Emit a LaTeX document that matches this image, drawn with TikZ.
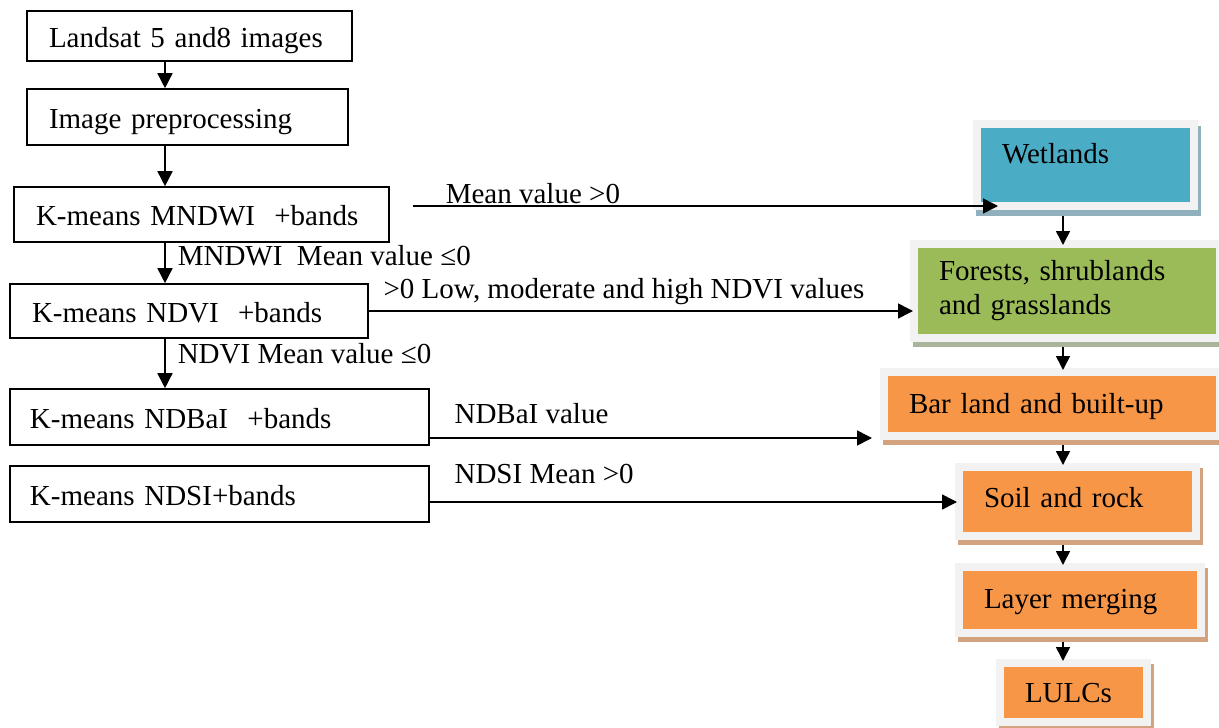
\documentclass[tikz,border=0pt]{standalone}
\usepackage{fontspec}
\setmainfont{Liberation Serif}
\usetikzlibrary{arrows.meta,backgrounds}
\definecolor{wetc}{HTML}{4BACC6}
\definecolor{grnc}{HTML}{9BBB59}
\definecolor{orac}{HTML}{F79646}
\definecolor{framec}{HTML}{F2F2F2}
\definecolor{wetsh}{HTML}{8FB0BC}
\definecolor{grnsh}{HTML}{A9B59A}
\definecolor{orash}{HTML}{D3A27F}
\tikzset{
  every node/.style={font=\fontsize{29}{35}\selectfont},
  lbox/.style={draw=black, line width=1.6pt, inner ysep=0pt, inner xsep=22pt,
    text height=22pt, text depth=0pt, align=left},
  rbox/.style={draw=framec, line width=8pt, inner ysep=0pt, inner xsep=25pt, align=left},
  lbl/.style={inner sep=0pt},
  arr/.style={line width=1.6pt, -{Triangle[length=15pt,width=15pt]}},
  rarr/.style={line width=1.6pt, -{Triangle[length=14pt,width=14pt]}},
}
\begin{document}
\begin{tikzpicture}[x=1pt,y=-1pt]
\useasboundingbox (0,0) rectangle (1219,728);
% left column
\node[lbox, minimum width=325pt, minimum height=50pt, text width=281pt] (L1) at (189.5,36) {Landsat 5 and8 images};
\node[lbox, minimum width=321pt, minimum height=56pt, text width=277pt] (L2) at (187.5,117) {Image preprocessing};
\node[lbox, minimum width=375pt, minimum height=55pt, text width=331pt] (L3) at (201.5,214.5) {K-means MNDWI\ \ +bands};
\node[lbox, minimum width=358pt, minimum height=54pt, text width=314pt, inner xsep=20pt] (L4) at (189,311) {K-means NDVI\ \ +bands};
\node[lbox, minimum width=419pt, minimum height=56pt, text width=379pt, inner xsep=20pt] (L5) at (219.5,417) {K-means NDBaI\ \ +bands};
\node[lbox, minimum width=419pt, minimum height=56pt, text width=379pt, inner xsep=20pt] (L6) at (219.5,494) {K-means NDSI+bands};
% right column
\node[rbox, fill=wetc, minimum width=217pt, minimum height=82pt, text width=167pt, text height=0pt, text depth=4pt] (W) at (1085.5,165) {Wetlands};
\node[rbox, fill=grnc, minimum width=306pt, minimum height=94pt, text width=256pt] (F) at (1067,291) {Forests, shrublands\\[-1pt]and grasslands};
\node[rbox, fill=orac, minimum width=336pt, minimum height=64pt, text width=286pt, text height=18pt, text depth=0pt] (B) at (1052,404) {Bar land and built-up};
\node[rbox, fill=orac, minimum width=237pt, minimum height=69pt, text width=187pt, text height=11pt, text depth=0pt] (S) at (1077.5,501.5) {Soil and rock};
\node[rbox, fill=orac, minimum width=242pt, minimum height=66pt, text width=192pt, text height=16pt, text depth=0pt] (LM) at (1080,600) {Layer merging};
\node[rbox, fill=orac, minimum width=147pt, minimum height=59pt, text width=97pt, text height=19pt, text depth=0pt] (LU) at (1073.5,692.5) {LULCs};
% shadows
\begin{scope}[on background layer]
\fill[wetsh] ([shift={(3,6)}]W.north west) rectangle ([shift={(3,6)}]W.south east);
\fill[grnsh] ([shift={(3,5)}]F.north west) rectangle ([shift={(3,5)}]F.south east);
\fill[orash] ([shift={(3,5)}]B.north west) rectangle ([shift={(3,5)}]B.south east);
\fill[orash] ([shift={(3,5)}]S.north west) rectangle ([shift={(3,5)}]S.south east);
\fill[orash] ([shift={(3,5)}]LM.north west) rectangle ([shift={(3,5)}]LM.south east);
\fill[orash] ([shift={(3,5)}]LU.north west) rectangle ([shift={(3,5)}]LU.south east);
\end{scope}
% coordinates
\coordinate (vl) at (165,0);
\coordinate (vr) at (1063,0);
\coordinate (m0) at (413,206);
\coordinate (p5) at ([yshift=-21pt]L5.east);
\coordinate (p6) at ([yshift=-8pt]L6.east);
% left vertical arrows
\draw[arr] (L1.south -| vl) -- (L2.north -| vl);
\draw[arr] (L2.south -| vl) -- (L3.north -| vl);
\draw[arr] (L3.south -| vl) -- node[lbl, pos=0, anchor=base west, xshift=12pt, yshift=-23pt] {MNDWI\ \ Mean value ≤0} (L4.north -| vl);
\draw[arr] (L4.south -| vl) -- node[lbl, pos=0, anchor=base west, xshift=12pt, yshift=-25pt] {NDVI Mean value ≤0} (L5.north -| vl);
% horizontal arrows
\draw[arr, shorten >=-25pt] (m0) -- node[lbl, pos=0, anchor=base west, xshift=32pt, yshift=3pt] {Mean value >0} (m0 -| W.west);
\draw[arr, shorten >=-3pt] (L4.east) -- node[lbl, pos=0, anchor=base west, xshift=14pt, yshift=13pt] {>0 Low, moderate and high NDVI values} (L4.east -| F.west);
\draw[arr, shorten >=8pt] (p5) -- node[lbl, pos=0, anchor=base west, xshift=24pt, yshift=15pt] {NDBaI value} (p5 -| B.west);
\draw[arr, shorten >=-2pt] (p6) -- node[lbl, pos=0, anchor=base west, xshift=24pt, yshift=19pt] {NDSI Mean >0} (p6 -| S.west);
% right vertical arrows
\draw[rarr, shorten <=6pt, shorten >=-5pt] (W.south -| vr) -- (F.north -| vr);
\draw[rarr, shorten <=5pt, shorten >=-2pt] (F.south -| vr) -- (B.north -| vr);
\draw[rarr, shorten <=5pt, shorten >=-2pt] (B.south -| vr) -- (S.north -| vr);
\draw[rarr, shorten <=5pt, shorten >=-2pt] (S.south -| vr) -- (LM.north -| vr);
\draw[rarr, shorten <=5pt, shorten >=-2pt] (LM.south -| vr) -- (LU.north -| vr);
\end{tikzpicture}
\end{document}
